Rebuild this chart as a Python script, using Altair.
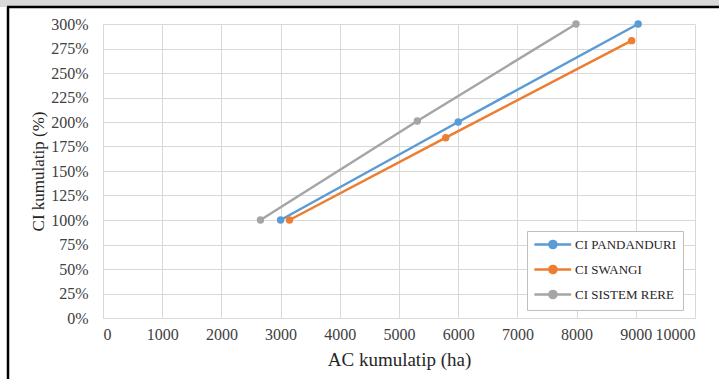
import altair as alt
import pandas as pd

series_names = ["CI PANDANDURI", "CI SWANGI", "CI SISTEM RERE"]
colors = ["#5b9bd5", "#ed7d31", "#a5a5a5"]

pandanduri_ac = [3000, 6000, 9040]
pandanduri_ci = [1.00, 2.00, 3.00]
swangi_ac = [3150, 5790, 8930]
swangi_ci = [1.00, 1.84, 2.83]
rere_ac = [2660, 5310, 7990]
rere_ci = [1.00, 2.01, 3.00]

x_ticks = [0, 1000, 2000, 3000, 4000, 5000, 6000, 7000, 8000, 9000, 10000]
y_ticks = [0, 0.25, 0.5, 0.75, 1.0, 1.25, 1.5, 1.75, 2.0, 2.25, 2.5, 2.75, 3.0]

rows = []
for name, xs, ys in [(series_names[0], pandanduri_ac, pandanduri_ci),
                     (series_names[1], swangi_ac, swangi_ci),
                     (series_names[2], rere_ac, rere_ci)]:
    for i, (a, c) in enumerate(zip(xs, ys)):
        rows.append({"series": name, "ac": a, "ci": c, "order": i})
df = pd.DataFrame(rows)

FONT = "Liberation Serif"

legend = alt.Legend(
    title=None,
    orient="none",
    legendX=424,
    legendY=207,
    direction="vertical",
    fillColor="white",
    strokeColor="#bfbfbf",
    padding=6,
    offset=0,
    rowPadding=6,
    labelFont=FONT,
    labelFontSize=13,
    labelColor="#262626",
    labelOffset=27,
    symbolType="M-1,0L5,0M1.45,0a0.58,0.58 0 1,0 1.16,0a0.58,0.58 0 1,0 -1.16,0",
    symbolSize=150,
    symbolStrokeWidth=2.5,
)

cscale = alt.Scale(domain=series_names, range=colors)

x = alt.X(
    "ac:Q",
    scale=alt.Scale(domain=[0, 10000], nice=False),
    axis=alt.Axis(
        values=x_ticks, format="d", title="AC kumulatip  (ha)",
        grid=True, ticks=False, domain=True, domainColor="#d9d9d9",
        labelFont=FONT, labelFontSize=16, labelColor="#404040", labelPadding=8,
        labelOverlap=False,
        titleFont=FONT, titleFontSize=19, titleFontWeight="normal", titleColor="#262626",
        titlePadding=8,
    ),
)
y = alt.Y(
    "ci:Q",
    scale=alt.Scale(domain=[0, 3], nice=False),
    axis=alt.Axis(
        values=y_ticks, format=".0%", title="CI kumulatip (%)",
        grid=True, ticks=False, domain=False,
        labelFont=FONT, labelFontSize=16, labelColor="#404040", labelPadding=15,
        labelOverlap=False,
        titleFont=FONT, titleFontSize=17, titleFontWeight="normal", titleColor="#262626",
        titleX=-65, titleY=147, titleAngle=-90, titleAlign="center", titleBaseline="middle",
    ),
)

lines = alt.Chart(df).mark_line(strokeWidth=2.5).encode(
    x=x, y=y, color=alt.Color("series:N", scale=cscale, legend=legend),
    order="order:O", detail="series:N"
)
points = alt.Chart(df).mark_point(filled=True, size=55, opacity=1).encode(
    x=x, y=y, color=alt.Color("series:N", scale=cscale, legend=legend)
)

frame_data = alt.Data(values=[{"k": 1}])
top_strip = alt.Chart(frame_data).mark_rect(color="#d9d9d9").encode(
    x=alt.value(-110), x2=alt.value(630), y=alt.value(-30), y2=alt.value(-17)
)
left_border = alt.Chart(frame_data).mark_rule(color="black", strokeWidth=2.5).encode(
    x=alt.value(-95), y=alt.value(-17), y2=alt.value(360)
)
top_border = alt.Chart(frame_data).mark_rule(color="black", strokeWidth=2.5).encode(
    x=alt.value(-96), x2=alt.value(620), y=alt.value(-17)
)

chart = alt.layer(top_strip, lines, points, left_border, top_border).properties(
    width=592, height=294,
    padding={"left": 103, "top": 24, "right": 24, "bottom": 61},
    autosize=alt.AutoSizeParams(type="none"),
    background="white",
).configure_view(stroke=None).configure_axis(gridColor="#d9d9d9", gridWidth=1)

chart.save("out.html", embed_options={"renderer": "svg", "actions": False})
